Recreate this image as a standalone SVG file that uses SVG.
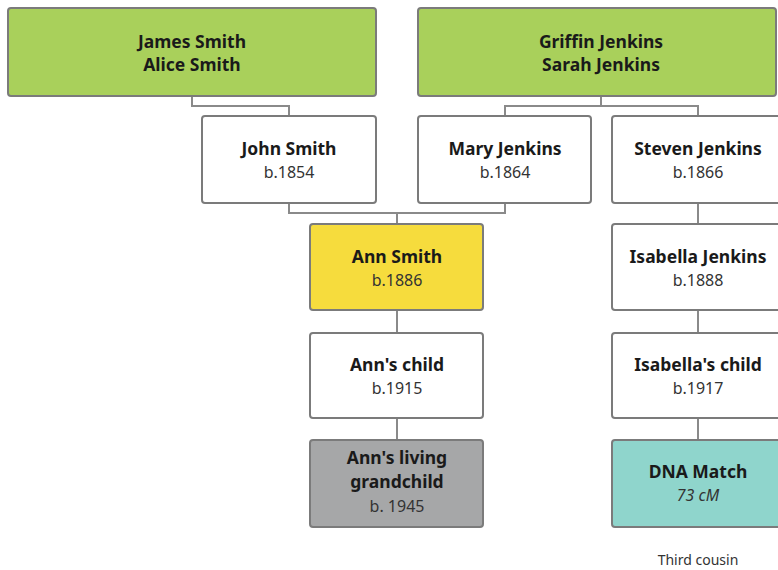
<svg xmlns="http://www.w3.org/2000/svg" width="778" height="570" viewBox="0 0 778 570">
<style>
.box{stroke:#7b7b7b;stroke-width:2}
.w{fill:#ffffff}
.g{fill:#a9d05b}
.y{fill:#f6dc3d}
.s{fill:#a6a7a8}
.t{fill:#8fd5cc}
.n{font-family:"Noto Sans","Open Sans",sans-serif;font-size:17.5px;font-weight:bold;fill:#1a1a1a;text-anchor:middle}
.d{font-family:"Noto Sans","Open Sans",sans-serif;font-size:16px;fill:#333333;text-anchor:middle}
.c{fill:none;stroke:#8a8a8a;stroke-width:2}
</style>
<rect width="778" height="570" fill="#ffffff"/>
<g id="connectors">
<polyline class="c" points="192,96 192,106 289,106 289,116"/>
<polyline class="c" points="601,96 601,106"/>
<polyline class="c" points="505,116 505,106 698,106 698,116"/>
<polyline class="c" points="289,203 289,213 505,213 505,203"/>
<polyline class="c" points="397,213 397,224"/>
<polyline class="c" points="698,203 698,224"/>
<polyline class="c" points="397,310 397,333"/>
<polyline class="c" points="698,310 698,333"/>
<polyline class="c" points="397,418 397,440"/>
<polyline class="c" points="698,418 698,440"/>
</g>
<g id="james-alice">
<rect class="box g" x="8" y="8" width="368" height="88" rx="3"/>
<text class="n" x="192" y="48">James Smith</text>
<text class="n" x="192" y="71">Alice Smith</text>
</g>
<g id="griffin-sarah">
<rect class="box g" x="418" y="8" width="358" height="88" rx="3"/>
<text class="n" x="601" y="48">Griffin Jenkins</text>
<text class="n" x="601" y="71">Sarah Jenkins</text>
</g>
<g id="john">
<rect class="box w" x="202" y="116" width="174" height="87" rx="3"/>
<text class="n" x="289" y="155">John Smith</text>
<text class="d" x="289" y="178">b.1854</text>
</g>
<g id="mary">
<rect class="box w" x="418" y="116" width="173" height="87" rx="3"/>
<text class="n" x="505" y="155">Mary Jenkins</text>
<text class="d" x="505" y="178">b.1864</text>
</g>
<g id="steven">
<rect class="box w" x="612" y="116" width="174" height="87" rx="3"/>
<text class="n" x="698" y="155">Steven Jenkins</text>
<text class="d" x="698" y="178">b.1866</text>
</g>
<g id="ann">
<rect class="box y" x="310" y="224" width="173" height="86" rx="3"/>
<text class="n" x="397" y="263">Ann Smith</text>
<text class="d" x="397" y="286">b.1886</text>
</g>
<g id="isabella">
<rect class="box w" x="612" y="224" width="174" height="86" rx="3"/>
<text class="n" x="698" y="263">Isabella Jenkins</text>
<text class="d" x="698" y="286">b.1888</text>
</g>
<g id="ann-child">
<rect class="box w" x="310" y="333" width="173" height="85" rx="3"/>
<text class="n" x="397" y="371">Ann's child</text>
<text class="d" x="397" y="394">b.1915</text>
</g>
<g id="isabella-child">
<rect class="box w" x="612" y="333" width="174" height="85" rx="3"/>
<text class="n" x="698" y="371">Isabella's child</text>
<text class="d" x="698" y="394">b.1917</text>
</g>
<g id="ann-grandchild">
<rect class="box s" x="310" y="440" width="173" height="87" rx="3"/>
<text class="n" x="397" y="464">Ann's living</text>
<text class="n" x="397" y="488">grandchild</text>
<text class="d" x="397" y="512">b. 1945</text>
</g>
<g id="dna-match">
<rect class="box t" x="612" y="440" width="174" height="87" rx="3"/>
<text class="n" x="698" y="478">DNA Match</text>
<text class="d" x="698" y="501" style="font-style:italic">73 cM</text>
</g>
<text class="d" x="698" y="565" style="font-size:14px">Third cousin</text>
</svg>
